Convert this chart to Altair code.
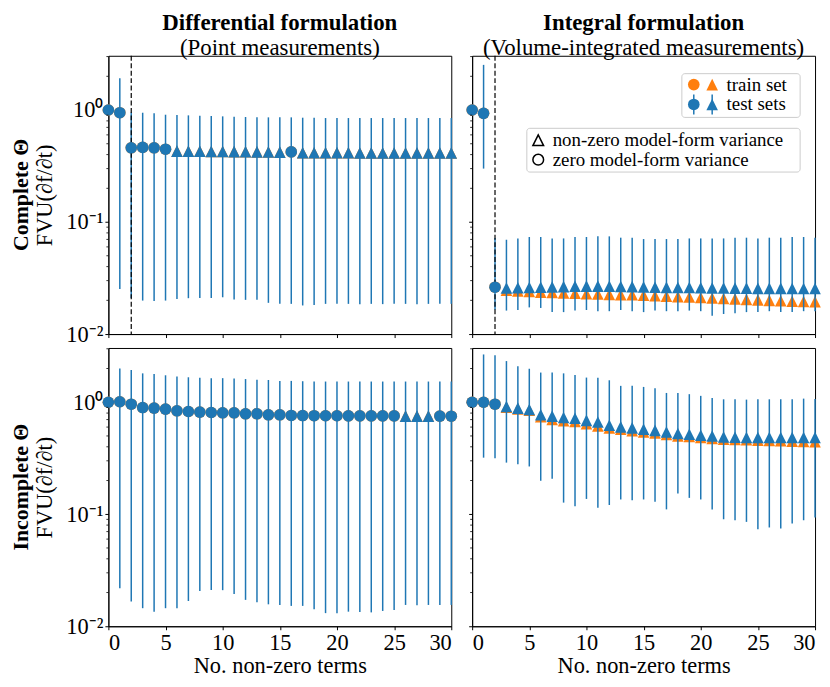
import altair as alt
import pandas as pd

FONT = "Liberation Serif"
BLUE = "#1f77b4"
ORANGE = "#ff7f0e"
TRI = "M0,-1L-1,1L1,1Z"
MS = 136
FS_TITLE = 23
FS_TICK = 22.5
FS_AXTITLE = 22.5
FS_ROW = 22
FS_LEG = 19

X = list(range(31))

# ---- top-left: differential, complete ----
TL_TEST = [1.0, 0.946, 0.46, 0.464, 0.46, 0.447, 0.43, 0.429, 0.428, 0.427, 0.426, 0.425, 0.424,
           0.423, 0.422, 0.421, 0.423, 0.416, 0.416, 0.415, 0.415, 0.415, 0.414, 0.414, 0.414,
           0.414, 0.413, 0.413, 0.413, 0.413, 0.413]
TL_TRAIN = [1.0, 0.946, 0.46, 0.464, 0.46, 0.447, 0.43, 0.429, 0.428, 0.427, 0.426, 0.425, 0.424,
            0.423, 0.422, 0.421, 0.423, 0.416, 0.416, 0.415, 0.415, 0.415, 0.414, 0.414, 0.414,
            0.414, 0.413, 0.413, 0.413, 0.413, 0.413]
TL_HI = [None, 1.92, 0.95, 0.946, 0.934, 0.908, 0.902, 0.896, 0.89, 0.884, 0.878, 0.872, 0.866,
         0.86, 0.86, 0.86, 0.86, 0.854, 0.854] + [0.848] * 12
TL_LO = [None, 0.0253, 0.021, 0.0199, 0.0197, 0.0199, 0.0206, 0.0209, 0.021, 0.021, 0.0213,
         0.0204, 0.0202, 0.0202, 0.019, 0.0186, 0.0186, 0.018, 0.0182, 0.0186, 0.0186, 0.0186,
         0.0185, 0.0186, 0.0185, 0.0186, 0.0186, 0.0185, 0.0186, 0.0186, 0.0186]
TL_SHAPE = ["o"] * 6 + ["^"] * 10 + ["o"] + ["^"] * 14

# ---- top-right: integral, complete ----
TR_TEST = [1.0, 0.934, 0.0262, 0.0258, 0.0259, 0.026, 0.0262, 0.0263, 0.0265, 0.0267, 0.0268,
           0.0268, 0.0267, 0.0266, 0.0265, 0.0263, 0.0262, 0.0261, 0.026, 0.026, 0.0259, 0.0258,
           0.0258, 0.0257, 0.0257, 0.0256, 0.0256, 0.0256, 0.0255, 0.0255, 0.0255]
TR_TRAIN = [1.0, 0.934, 0.0262, 0.0246, 0.0243, 0.024, 0.0237, 0.0235, 0.0233, 0.0231, 0.0229,
            0.0228, 0.0226, 0.0225, 0.0224, 0.0222, 0.022, 0.0218, 0.0216, 0.0214, 0.0212, 0.021,
            0.0208, 0.0206, 0.0204, 0.0202, 0.02, 0.0198, 0.0196, 0.0195, 0.0194]
TR_HI = [None, 2.53, 0.072, 0.0695, 0.0714, 0.0735, 0.0735, 0.0714, 0.0714, 0.0735, 0.0735,
         0.0745, 0.0745, 0.0725, 0.0725, 0.0705, 0.0705, 0.0705, 0.0705, 0.0714, 0.0714, 0.0714,
         0.0714, 0.0725, 0.0725, 0.0714, 0.0725, 0.0725, 0.0735, 0.0735, 0.0725]
TR_LO = [None, 0.30, 0.0165, 0.0162, 0.0164, 0.0173, 0.0171, 0.0157, 0.0157, 0.0162, 0.0164,
         0.016, 0.016, 0.0164, 0.016, 0.0157, 0.0162, 0.016, 0.016, 0.0162, 0.016, 0.0146,
         0.0151, 0.0153, 0.0157, 0.0157, 0.016, 0.0157, 0.0157, 0.016, 0.016]
TR_SHAPE = ["o"] * 3 + ["^"] * 28

# ---- bottom-left: differential, incomplete ----
BL_TEST = [1.0, 1.01, 0.96, 0.896, 0.885, 0.867, 0.838, 0.826, 0.816, 0.81, 0.805, 0.805, 0.788,
           0.788, 0.772, 0.772, 0.762, 0.76, 0.758, 0.757, 0.757, 0.756, 0.756, 0.755, 0.755,
           0.755, 0.752, 0.752, 0.752, 0.752, 0.75]
BL_TRAIN = [1.0, 1.01, 0.96, 0.896, 0.885, 0.867, 0.838, 0.826, 0.816, 0.81, 0.805, 0.805, 0.788,
            0.788, 0.772, 0.772, 0.762, 0.76, 0.758, 0.757, 0.757, 0.756, 0.756, 0.755, 0.755,
            0.755, 0.752, 0.752, 0.752, 0.752, 0.75]
BL_HI = [None, 2.0, 1.94, 1.81, 1.79, 1.74, 1.70, 1.67, 1.65, 1.64, 1.64, 1.63, 1.61, 1.59, 1.58,
         1.55, 1.55, 1.54] + [1.53] * 13
BL_LO = [None, 0.0218, 0.0166, 0.0145, 0.0135, 0.0145, 0.0145, 0.0168, 0.0206, 0.0211, 0.021,
         0.0194, 0.0172, 0.0164, 0.0157, 0.0155, 0.0152, 0.0152, 0.0142, 0.0131, 0.0131, 0.0135,
         0.0134, 0.0133, 0.0137, 0.014, 0.0155, 0.0154, 0.0155, 0.0155, 0.0155]
BL_SHAPE = ["o"] * 26 + ["^"] * 3 + ["o"] * 2

# ---- bottom-right: integral, incomplete ----
BR_TEST = [1.0, 1.0, 0.96, 0.915, 0.885, 0.86, 0.772, 0.752, 0.73, 0.72, 0.688, 0.666, 0.622,
           0.602, 0.59, 0.573, 0.561, 0.543, 0.525, 0.518, 0.507, 0.5, 0.49, 0.487, 0.485, 0.484,
           0.484, 0.484, 0.484, 0.484, 0.484]
BR_TRAIN = [1.0, 1.0, 0.96, 0.903, 0.873, 0.849, 0.742, 0.703, 0.684, 0.675, 0.643, 0.614, 0.589,
            0.573, 0.558, 0.543, 0.532, 0.515, 0.501, 0.494, 0.484, 0.474, 0.468, 0.465, 0.462,
            0.459, 0.456, 0.453, 0.449, 0.446, 0.444]
BR_HI = [None, 2.67, 2.62, 2.33, 2.10, 1.99, 1.84, 1.84, 1.81, 1.75, 1.66, 1.65, 1.57, 1.40, 1.40,
         1.37, 1.33, 1.21, 1.21, 1.18, 1.14, 1.09, 1.062, 1.062, 1.055, 1.062, 1.062, 1.062, 1.062,
         1.077, 1.07]
BR_LO = [None, 0.32, 0.316, 0.289, 0.28, 0.267, 0.199, 0.207, 0.127, 0.118, 0.137, 0.114, 0.121,
         0.1355, 0.1336, 0.1355, 0.129, 0.1105, 0.153, 0.14, 0.1355, 0.1105, 0.0902, 0.0884,
         0.0855, 0.0736, 0.0762, 0.0746, 0.0826, 0.0884, 0.0933]
BR_SHAPE = ["o"] * 3 + ["^"] * 28

COL_TITLES = [("Differential formulation", "(Point measurements)"),
              ("Integral formulation", "(Volume-integrated measurements)")]
ROW_TITLES = ["Complete Θ", "Incomplete Θ"]
Y_LABEL = "FVU(∂f/∂t)"
X_LABEL = "No. non-zero terms"
X_TICKS = [0, 5, 10, 15, 20, 25, 30]
Y_TICKS = [0.01, 0.1, 1]
Y_TICK_LABELS = ["10⁻²", "10⁻¹", "10⁰"]
Y_MINOR = [0.02, 0.03, 0.04, 0.05, 0.06, 0.07, 0.08, 0.09,
           0.2, 0.3, 0.4, 0.5, 0.6, 0.7, 0.8, 0.9, 2, 3]
Y_DOMAIN = [0.01, 3.05]
X_DOMAIN = [0, 30]
SELECTED_TERMS = [2]   # dashed line, complete-Theta row

LEG1_LABELS = ["train set", "test sets"]
LEG1_COLORS = [ORANGE, BLUE]
LEG1_ERRBAR = [False, True]
LEG2_LABELS = ["non-zero model-form variance", "zero model-form variance"]
LEG2_SHAPES = [TRI, "circle"]

W, H = 345, 280

label_expr = " : ".join(
    [f"datum.value < {v * 3} ? '{l}'" for v, l in zip(Y_TICKS[:-1], Y_TICK_LABELS[:-1])]
    + [f"'{Y_TICK_LABELS[-1]}'"]
)


def one():
    return pd.DataFrame({"a": [0]})


def make_panel(test, train, lo, hi, shapes, row, col):
    df = pd.DataFrame({
        "x": X, "test": test, "train": train, "lo": lo, "hi": hi,
        "kind": ["circle" if s == "o" else "triangle" for s in shapes],
    })
    bottom = row == 1
    left = col == 0
    xscale = alt.Scale(domain=X_DOMAIN, nice=False, zero=False)
    yscale = alt.Scale(type="log", domain=Y_DOMAIN, nice=False)
    if bottom:
        xaxis = alt.Axis(values=X_TICKS, title=X_LABEL, labelPadding=2, titlePadding=1,
                         labelFontSize=FS_TICK, titleFontSize=FS_AXTITLE)
    else:
        xaxis = alt.Axis(values=X_TICKS, labels=False, title=None)
    if left:
        yaxis = alt.Axis(values=Y_TICKS, labelExpr=label_expr, labelOverlap=False,
                         labelFontSize=FS_TICK, titleFontSize=FS_AXTITLE,
                         title=Y_LABEL, titleAngle=270, titleX=-64, titleY=H / 2,
                         titleAlign="center", titleBaseline="middle")
    else:
        yaxis = alt.Axis(values=Y_TICKS, labels=False, title=None)

    def xe(f="x"):
        return alt.X(f"{f}:Q", scale=xscale, axis=xaxis)

    def ye(f):
        return alt.Y(f"{f}:Q", scale=yscale, axis=yaxis)

    shape = alt.Shape("kind:N", scale=alt.Scale(domain=["circle", "triangle"], range=["circle", TRI]),
                      legend=None)
    base = alt.Chart(df)
    layers = []
    layers.append(base.mark_point(filled=True, opacity=1, size=MS, color=ORANGE)
                  .encode(x=xe(), y=ye("train"), shape=shape))
    layers.append(base.transform_filter("isValid(datum.lo)")
                  .mark_rule(color=BLUE, strokeWidth=1.5)
                  .encode(x=xe(), y=ye("lo"), y2="hi:Q"))
    if row == 0:
        layers.append(alt.Chart(pd.DataFrame({"x": SELECTED_TERMS}))
                      .mark_rule(color="black", strokeDash=[5, 2.5], strokeWidth=1.2)
                      .encode(x=xe()))
    layers.append(base.mark_point(filled=True, opacity=1, size=MS, color=BLUE)
                  .encode(x=xe(), y=ye("test"), shape=shape))
    # minor log ticks
    layers.append(alt.Chart(pd.DataFrame({"v": Y_MINOR}))
                  .mark_rule(color="black", strokeWidth=0.8)
                  .encode(y=ye("v"), x=alt.value(0), x2=alt.value(-2)))
    if left:
        layers.append(alt.Chart(pd.DataFrame({"t": [ROW_TITLES[row]]}))
                      .mark_text(angle=270, font=FONT, fontSize=FS_ROW, fontWeight="bold",
                                 align="center", baseline="middle", color="black")
                      .encode(text="t:N", x=alt.value(-88), y=alt.value(H / 2)))
    if row == 0 and col == 1:
        # legend 1 (train / test)
        layers.append(alt.Chart(one()).mark_rect(fill="white", fillOpacity=0.8, stroke="#cccccc",
                                                 strokeWidth=1, cornerRadius=3)
                      .encode(x=alt.value(211), x2=alt.value(330), y=alt.value(18), y2=alt.value(62)))
        for i, (lab, c, eb) in enumerate(zip(LEG1_LABELS, LEG1_COLORS, LEG1_ERRBAR)):
            yy = 29 + 20 * i
            for sx, shp in [(223, "circle"), (241.5, TRI)]:
                if eb:
                    layers.append(alt.Chart(one()).mark_rule(color=c, strokeWidth=1.5)
                                  .encode(x=alt.value(sx), y=alt.value(yy - 10), y2=alt.value(yy + 10)))
                layers.append(alt.Chart(one()).mark_point(filled=True, opacity=1, size=MS,
                                                          color=c, shape=shp)
                              .encode(x=alt.value(sx), y=alt.value(yy)))
            layers.append(alt.Chart(pd.DataFrame({"t": [lab]}))
                          .mark_text(align="left", baseline="middle", font=FONT, fontSize=FS_LEG,
                                     color="black")
                          .encode(text="t:N", x=alt.value(256), y=alt.value(yy)))
        # legend 2 (shapes)
        layers.append(alt.Chart(one()).mark_rect(fill="white", fillOpacity=0.8, stroke="#cccccc",
                                                 strokeWidth=1, cornerRadius=3)
                      .encode(x=alt.value(55), x2=alt.value(330), y=alt.value(73), y2=alt.value(117)))
        for i, (lab, shp) in enumerate(zip(LEG2_LABELS, LEG2_SHAPES)):
            yy = 85 + 19.5 * i
            layers.append(alt.Chart(one()).mark_point(filled=False, opacity=1, size=MS - 20,
                                                      color="black", strokeWidth=1.5, shape=shp)
                          .encode(x=alt.value(66.5), y=alt.value(yy)))
            layers.append(alt.Chart(pd.DataFrame({"t": [lab]}))
                          .mark_text(align="left", baseline="middle", font=FONT, fontSize=FS_LEG,
                                     color="black")
                          .encode(text="t:N", x=alt.value(81), y=alt.value(yy)))

    ch = alt.layer(*layers).properties(width=W, height=H)
    if row == 0:
        t, s = COL_TITLES[col]
        ch = ch.properties(title=alt.TitleParams(
            text=t, subtitle=s, font=FONT, fontSize=FS_TITLE, fontWeight="bold", color="black",
            subtitleFont=FONT, subtitleFontSize=FS_TITLE, subtitleColor="black",
            subtitlePadding=2, offset=-5, anchor="middle"))
    return ch


TLc = make_panel(TL_TEST, TL_TRAIN, TL_LO, TL_HI, TL_SHAPE, 0, 0)
TRc = make_panel(TR_TEST, TR_TRAIN, TR_LO, TR_HI, TR_SHAPE, 0, 1)
BLc = make_panel(BL_TEST, BL_TRAIN, BL_LO, BL_HI, BL_SHAPE, 1, 0)
BRc = make_panel(BR_TEST, BR_TRAIN, BR_LO, BR_HI, BR_SHAPE, 1, 1)

chart = alt.concat(TLc, TRc, BLc, BRc, columns=2, bounds="flush",
                   spacing={"row": 14, "column": 21}).properties(
    padding={"left": 1, "top": 1, "right": 0, "bottom": 0}
).configure_view(stroke="black", strokeWidth=1).configure_axis(
    labelFont=FONT, labelFontSize=FS_TICK, titleFont=FONT, titleFontSize=FS_AXTITLE,
    titleFontWeight="normal",
    labelColor="black", titleColor="black", tickColor="black", domainColor="black",
    tickSize=3.5, tickWidth=1, domainWidth=1, grid=False, labelPadding=2
)

chart.save("out.html", embed_options={"renderer": "svg", "actions": False})
